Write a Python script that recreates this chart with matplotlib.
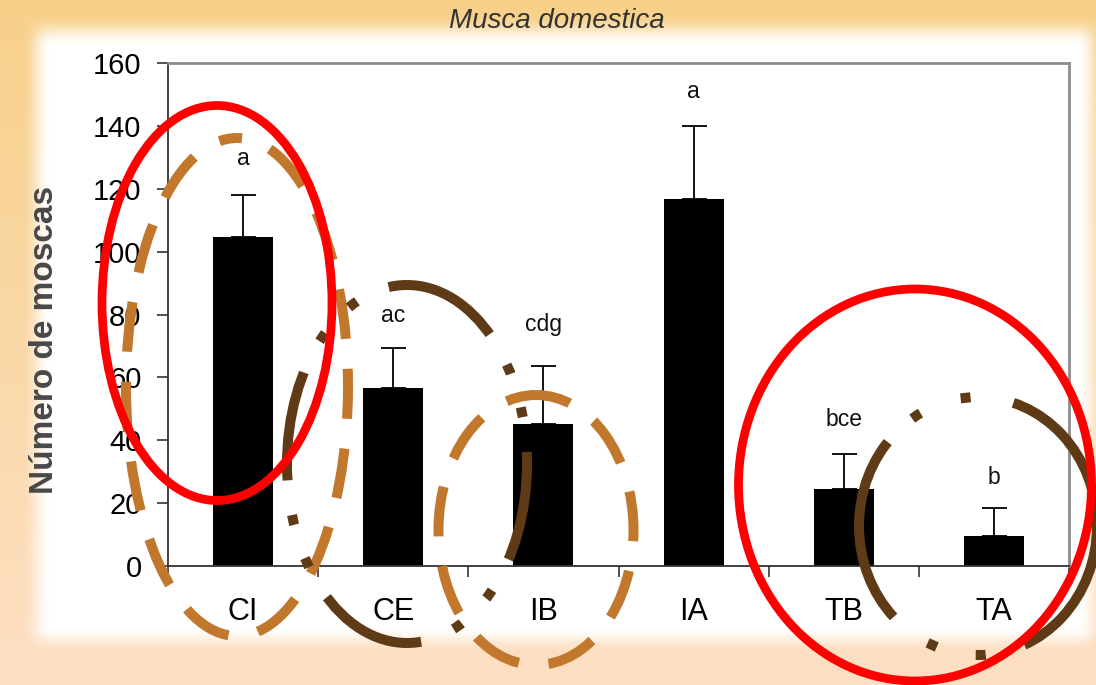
import numpy as np
import matplotlib

matplotlib.use("Agg")
import matplotlib.pyplot as plt
from matplotlib.patches import Ellipse

# data
categories = ["CI", "CE", "IB", "IA", "TB", "TA"]
mean_counts = [104.6, 56.6, 45.2, 116.7, 24.5, 9.5]
error_up = [13.4, 12.7, 18.4, 23.3, 11.1, 8.9]
group_letters = ["a", "ac", "cdg", "a", "bce", "b"]
letter_heights = [127.5, 77.6, 74.7, 149.0, 44.5, 26.0]
y_ticks = [0, 20, 40, 60, 80, 100, 120, 140, 160]

W, H = 1096, 685
FONT = ["Liberation Sans", "DejaVu Sans"]

GOLD = np.array([247, 208, 138]) / 255.0
PEACH = np.array([253, 224, 196]) / 255.0
RED = "#ff0000"
LIGHT_BROWN = "#c1772c"
DARK_BROWN = "#5e3b16"

# dash patterns, in line widths (one line width is about 10 px here)
DASHED = (5.0, 3.0)
DASH_DOT_DOT = (11.0, 3.5, 1.0, 3.5, 1.0, 3.5)
TA_DASHES = (30.6, 4.0, 1.0, 4.0, 1.0, 4.3, 19.0, 3.4, 1.0, 4.3, 1.0, 3.8)


def ramp(v, a, b):
    t = np.clip((v - a) / (b - a), 0.0, 1.0)
    return t * t * (3 - 2 * t)


def background():
    y = np.arange(H)[:, None].astype(float)
    x = np.arange(W)[None, :].astype(float)
    t = (y / (H - 1))[..., None]
    base = GOLD * (1 - t) + PEACH * t
    m = ramp(x, 22, 50) * (1 - ramp(x, 1078, 1104)) * ramp(y, 14, 46) * (1 - ramp(y, 626, 652))
    m = m[..., None]
    return base * (1 - m) + m


def main():
    plt.rcParams["font.family"] = FONT
    fig = plt.figure(figsize=(W / 100, H / 100), dpi=100)

    bg = fig.add_axes([0, 0, 1, 1], zorder=0)
    bg.imshow(background(), extent=(0, W, H, 0), aspect="auto", interpolation="nearest")
    bg.axis("off")

    ax = fig.add_axes([168 / W, 1 - 566 / H, (1069 - 168) / W, (566 - 63) / H], zorder=2)
    ax.set_facecolor("white")
    x = np.arange(len(categories))
    ax.bar(x, mean_counts, width=0.4, color="black", zorder=2)
    ax.errorbar(x, mean_counts, yerr=[np.zeros(len(x)), error_up], fmt="none",
                ecolor="black", elinewidth=1.3, capsize=9, capthick=1.3, zorder=3)
    for xi, lab, h in zip(x, group_letters, letter_heights):
        ax.text(xi, h, lab, ha="center", va="baseline", fontsize=16.5, color="#111111")

    ax.set_xlim(-0.5, len(categories) - 0.5)
    ax.set_ylim(0, 160)
    ax.set_yticks(y_ticks)
    ax.set_yticklabels([str(v) for v in y_ticks], fontsize=21)
    ax.set_xticks(x)
    ax.set_xticklabels(categories, fontsize=22)
    ax.set_xticks(np.arange(len(categories) + 1) - 0.5, minor=True)
    ax.tick_params(axis="x", which="major", length=0, pad=22)
    ax.tick_params(axis="x", which="minor", length=8, width=1.2, color="#333333")
    ax.tick_params(axis="y", length=8, width=1.2, color="#333333", pad=11)
    for side in ("left", "bottom"):
        ax.spines[side].set_color("#333333")
        ax.spines[side].set_linewidth(1.3)
    for side in ("top", "right"):
        ax.spines[side].set_color("#8c8c8c")
        ax.spines[side].set_linewidth(2)

    fig.text(557 / W, 1 - 21 / H, "Musca domestica", ha="center", va="center",
             fontsize=20, style="italic", color="#333333")
    fig.text(45 / W, 1 - 340 / H, "Número de moscas", ha="center", va="center",
             rotation=90, fontsize=24, fontweight="bold", color="#484848")

    # hand-drawn ellipses on top of the chart, in pixel coordinates
    over = fig.add_axes([0, 0, 1, 1], zorder=5)
    over.set_xlim(0, W)
    over.set_ylim(H, 0)
    over.axis("off")
    over.patch.set_alpha(0)

    shapes = [
        ((237, 387), 222, 498, LIGHT_BROWN, (4.5, DASHED), 7.2),
        ((407, 464), 240, 358, DARK_BROWN, (1.0, DASH_DOT_DOT), 7.2),
        ((536, 530), 195, 270, LIGHT_BROWN, (1.5, DASHED), 7.2),
        ((978, 526), 238, 258, DARK_BROWN, (73.8, TA_DASHES), 7.2),
        ((217, 303), 230, 395, RED, "-", 6.3),
        ((915, 485), 353, 392, RED, "-", 6.3),
    ]
    for center, w, h, color, ls, lw in shapes:
        over.add_patch(Ellipse(center, w, h, fill=False, edgecolor=color,
                               linestyle=ls, linewidth=lw, capstyle="butt"))

    fig.savefig("out.png", dpi=100)


if __name__ == "__main__":
    main()
